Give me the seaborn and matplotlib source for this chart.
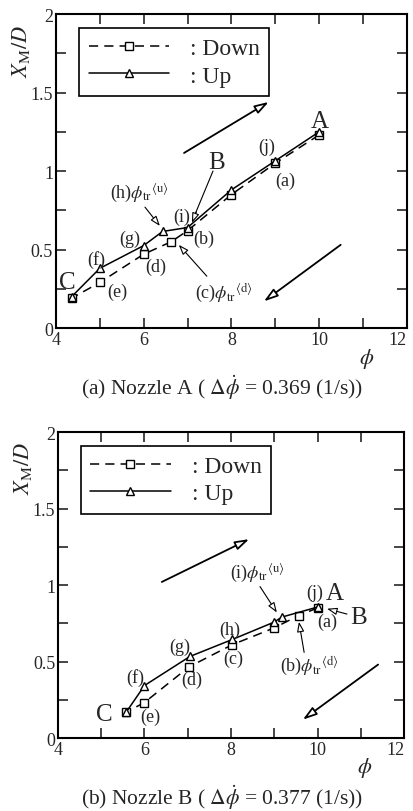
import numpy as np
import pandas as pd
import matplotlib
matplotlib.use("Agg")
import matplotlib.pyplot as plt
from matplotlib.lines import Line2D
import seaborn as sns

# Nozzle A: mixing position X_M/D versus phi, decreasing and increasing sweeps
a_down_phi = [10.0, 9.0, 8.0, 7.0, 6.63, 6.0, 5.0, 4.36]
a_down_xm = [1.23, 1.05, 0.85, 0.62, 0.55, 0.47, 0.29, 0.19]
a_up_phi = [4.36, 5.0, 6.0, 6.43, 7.0, 8.0, 9.0, 10.0]
a_up_xm = [0.20, 0.38, 0.525, 0.615, 0.64, 0.88, 1.065, 1.25]

# Nozzle B
b_down_phi = [10.0, 9.56, 9.0, 8.03, 7.03, 5.99, 5.58]
b_down_xm = [0.85, 0.80, 0.72, 0.61, 0.465, 0.23, 0.17]
b_up_phi = [5.58, 6.0, 7.05, 8.03, 9.0, 9.17, 10.0]
b_up_xm = [0.17, 0.343, 0.533, 0.644, 0.758, 0.79, 0.856]

x_ticks = [4, 6, 8, 10, 12]
x_minor = [5, 7, 9, 11]
y_ticks = [0, 0.5, 1, 1.5, 2]
y_tick_labels = ["0", "0.5", "1", "1.5", "2"]
y_minor = [0.25, 0.75, 1.25, 1.75]

captions = [r"(a) Nozzle A ( $\Delta\dot{\phi}$ = 0.369 (1/s))",
            r"(b) Nozzle B ( $\Delta\dot{\phi}$ = 0.377 (1/s))"]

sns.set_theme(style="ticks")
plt.rcParams["font.family"] = ["Liberation Serif", "DejaVu Serif"]
plt.rcParams["mathtext.fontset"] = "stix"

fig = plt.figure(figsize=(4.14, 8.12), dpi=100)
ax1 = fig.add_axes([0.135, 0.5948, 0.848, 0.3867])
ax2 = fig.add_axes([0.140, 0.0899, 0.836, 0.3768])

line_kw = dict(color="black", lw=1.1, markersize=5.5, markerfacecolor="white",
               markeredgecolor="black", markeredgewidth=1.0, sort=False,
               estimator=None, legend=False)


def draw_series(ax, dphi, dxm, uphi, uxm):
    down = pd.DataFrame({"phi": dphi, "xm": dxm})
    up = pd.DataFrame({"phi": uphi, "xm": uxm})
    sns.lineplot(data=down, x="phi", y="xm", ax=ax, marker="s",
                 linestyle=(0, (6, 4)), **line_kw)
    sns.lineplot(data=up, x="phi", y="xm", ax=ax, marker="^", linestyle="-",
                 **line_kw)


def style_axes(ax):
    ax.set_xlim(4, 12)
    ax.set_ylim(0, 2)
    ax.set_xticks(x_ticks)
    ax.set_xticklabels([str(v) for v in x_ticks])
    ax.set_xticks(x_minor, minor=True)
    ax.set_yticks(y_ticks)
    ax.set_yticklabels(y_tick_labels)
    ax.set_yticks(y_minor, minor=True)
    ax.tick_params(which="both", direction="in", top=True, right=True,
                   labelsize=13, width=1.2, pad=2, length=7)
    ax.get_xticklabels()[-1].set_ha("right")
    ax.get_xticklabels()[-1].set_x(12.1)
    for s in ax.spines.values():
        s.set_linewidth(1.5)
        s.set_color("black")
    ax.set_xlabel("")
    ax.set_ylabel("")
    ax.text(-0.10, 0.885, r"$X_{\mathrm{M}}/D$", transform=ax.transAxes,
            rotation=90, ha="center", va="center", fontsize=16)
    ax.text(0.885, -0.095, r"$\phi$", transform=ax.transAxes, ha="center",
            va="center", fontsize=16)
    handles = [Line2D([], [], color="black", lw=1.1, linestyle=(0, (6, 4)),
                      marker="s", markersize=5.5, markerfacecolor="white"),
               Line2D([], [], color="black", lw=1.1, linestyle="-",
                      marker="^", markersize=5.5, markerfacecolor="white")]
    leg = ax.legend(handles, [": Down", ": Up"], loc="upper left",
                    bbox_to_anchor=(0.066, 0.955), borderaxespad=0,
                    fontsize=17, handlelength=3.4, handletextpad=0.9,
                    frameon=True, fancybox=False, framealpha=1,
                    borderpad=0.4, labelspacing=0.25)
    leg.get_frame().set_edgecolor("black")
    leg.get_frame().set_linewidth(1.2)


def label(ax, x, y, s, size=13, ha="center"):
    ax.text(x, y, s, fontsize=size, ha=ha, va="center")


def pointer(ax, start, end):
    ax.annotate("", xy=end, xytext=start,
                arrowprops=dict(arrowstyle="-|>,head_length=0.5,head_width=0.18",
                                fc="white", ec="black", lw=0.8,
                                shrinkA=0, shrinkB=0))


def big_arrow(ax, start, end):
    ax.annotate("", xy=end, xytext=start,
                arrowprops=dict(arrowstyle="-|>,head_length=0.7,head_width=0.22",
                                fc="white", ec="black", lw=1.3,
                                shrinkA=0, shrinkB=0))


tr_u = r"$\phi_{\mathrm{tr}}{}^{\langle\mathrm{u}\rangle}$"
tr_d = r"$\phi_{\mathrm{tr}}{}^{\langle\mathrm{d}\rangle}$"

# ---- Nozzle A ----
draw_series(ax1, a_down_phi, a_down_xm, a_up_phi, a_up_xm)
style_axes(ax1)
big_arrow(ax1, (6.92, 1.115), (8.85, 1.44))
big_arrow(ax1, (10.49, 0.53), (8.74, 0.17))
label(ax1, 10.02, 1.32, "A", 18)
label(ax1, 7.67, 1.06, "B", 18)
label(ax1, 4.25, 0.29, "C", 18)
ax1.plot([7.58, 7.12], [1.0, 0.69], color="black", lw=0.8)
pointer(ax1, (7.2, 0.74), (7.1, 0.67))
label(ax1, 8.81, 1.16, "(j)")
label(ax1, 9.22, 0.94, "(a)")
label(ax1, 6.87, 0.71, "(i)")
label(ax1, 7.36, 0.57, "(b)")
label(ax1, 5.69, 0.57, "(g)")
label(ax1, 4.91, 0.44, "(f)")
label(ax1, 6.27, 0.395, "(d)")
label(ax1, 5.39, 0.236, "(e)")
label(ax1, 5.23, 0.866, "(h)" + tr_u, ha="left")
pointer(ax1, (6.03, 0.77), (6.37, 0.65))
label(ax1, 7.17, 0.23, "(c)" + tr_d, ha="left")
pointer(ax1, (7.44, 0.33), (6.8, 0.53))
fig.text(0.537, 0.523, captions[0], ha="center", va="center", fontsize=15.5)

# ---- Nozzle B ----
draw_series(ax2, b_down_phi, b_down_xm, b_up_phi, b_up_xm)
style_axes(ax2)
big_arrow(ax2, (6.4, 1.02), (8.42, 1.30))
big_arrow(ax2, (11.4, 0.48), (9.66, 0.12))
label(ax2, 9.93, 0.95, "(j)")
label(ax2, 10.4, 0.95, "A", 18)
label(ax2, 10.94, 0.79, "B", 18)
pointer(ax2, (10.68, 0.81), (10.22, 0.845))
label(ax2, 5.07, 0.16, "C", 18)
label(ax2, 10.22, 0.76, "(a)")
label(ax2, 7.98, 0.71, "(h)")
label(ax2, 6.82, 0.60, "(g)")
label(ax2, 8.05, 0.52, "(c)")
label(ax2, 7.1, 0.385, "(d)")
label(ax2, 5.78, 0.40, "(f)")
label(ax2, 6.13, 0.14, "(e)")
label(ax2, 7.98, 1.09, "(i)" + tr_u, ha="left")
pointer(ax2, (8.67, 0.99), (9.06, 0.82))
label(ax2, 9.13, 0.48, "(b)" + tr_d, ha="left")
pointer(ax2, (9.69, 0.56), (9.57, 0.76))
fig.text(0.537, 0.018, captions[1], ha="center", va="center", fontsize=15.5)

fig.savefig("out.png", dpi=100, facecolor="white")
